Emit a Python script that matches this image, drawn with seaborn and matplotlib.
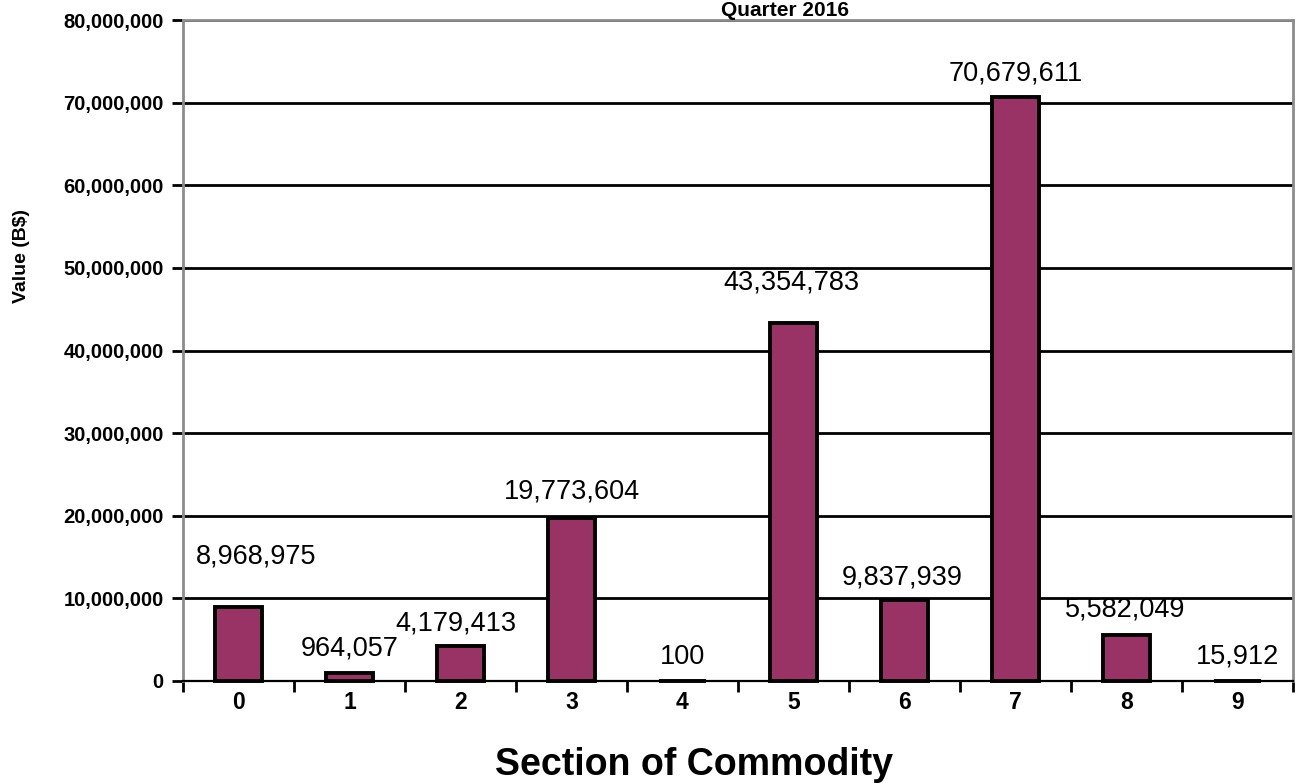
import matplotlib
matplotlib.use("Agg")
import matplotlib.pyplot as plt
import seaborn as sns
import pandas as pd
from matplotlib.ticker import FuncFormatter, FixedLocator

sections = ["0", "1", "2", "3", "4", "5", "6", "7", "8", "9"]
values = [8968975, 964057, 4179413, 19773604, 100, 43354783, 9837939, 70679611, 5582049, 15912]
# label offsets (pixels) relative to bar top / bar centre, as in the reference
label_dy = [50, 25, 23, 26, 24, 40, 22, 24, 25, 24]
label_dx = [18, 0, -5, 0, 0, -2, -2, 0, -1, 0]
y_ticks = [0, 10000000, 20000000, 30000000, 40000000, 50000000, 60000000, 70000000, 80000000]

title_text = "Quarter 2016"
x_title = "Section of Commodity"
y_title = "Value (B$)"

sns.set_theme(style="white")
plt.rcParams["font.family"] = ["Liberation Sans", "DejaVu Sans"]
plt.rcParams["text.color"] = "black"
plt.rcParams["xtick.color"] = "black"
plt.rcParams["ytick.color"] = "black"
plt.rcParams["xtick.labelcolor"] = "black"
plt.rcParams["ytick.labelcolor"] = "black"

W, H = 1296, 784
fig = plt.figure(figsize=(W / 100, H / 100), dpi=100)
ax = fig.add_axes([183 / W, (H - 681) / H, 1110 / W, 661 / H])

df = pd.DataFrame({"section": sections, "value": values})
sns.barplot(data=df, x="section", y="value", ax=ax, color="#993366",
            saturation=1, width=0.415, edgecolor="black", linewidth=2.8, zorder=3)
for p in ax.patches:
    p.set_clip_on(False)

ax.set_ylim(0, 80000000)
ax.set_xlim(-0.5, 9.5)
ax.set_yticks(y_ticks)
ax.yaxis.set_major_formatter(FuncFormatter(lambda v, p: f"{int(v):,}"))
ax.yaxis.grid(True, color="black", linewidth=2)
ax.set_axisbelow(True)

for s in ["top", "left", "right"]:
    ax.spines[s].set_color("#8c8c8c")
    ax.spines[s].set_linewidth(2)
ax.spines["bottom"].set_color("black")
ax.spines["bottom"].set_linewidth(1.6)
ax.spines["bottom"].set_zorder(2.5)

ax.tick_params(axis="y", which="major", direction="out", length=8, width=2,
               color="black", labelsize=14.5, pad=6, left=True)
for t in ax.get_yticklabels():
    t.set_fontweight("bold")
ax.tick_params(axis="x", which="major", length=0, labelsize=16.5, pad=7)
for t in ax.get_xticklabels():
    t.set_fontweight("bold")
ax.xaxis.set_minor_locator(FixedLocator([i - 0.5 for i in range(11)]))
ax.tick_params(axis="x", which="minor", direction="out", length=8, width=2,
               color="black", bottom=True)
ax.set_xlabel("")
ax.set_ylabel("")

for i, (v, dy, dx) in enumerate(zip(values, label_dy, label_dx)):
    ax.annotate(f"{v:,}", xy=(i, v), xytext=(dx * 0.72, dy * 0.72),
                textcoords="offset points", ha="center", va="center",
                fontsize=19.5, color="black", zorder=5)

fig.text(694 / W, 1 - 765 / H, x_title, ha="center", va="center",
         fontsize=27, fontweight="bold")
fig.text(22 / W, 1 - 256 / H, y_title, ha="center", va="center",
         rotation=90, fontsize=14, fontweight="bold")
fig.text(785 / W, 1 - 0.5 / H, title_text, ha="center", va="top",
         fontsize=15, fontweight="bold")

fig.savefig("out.png", dpi=100)
